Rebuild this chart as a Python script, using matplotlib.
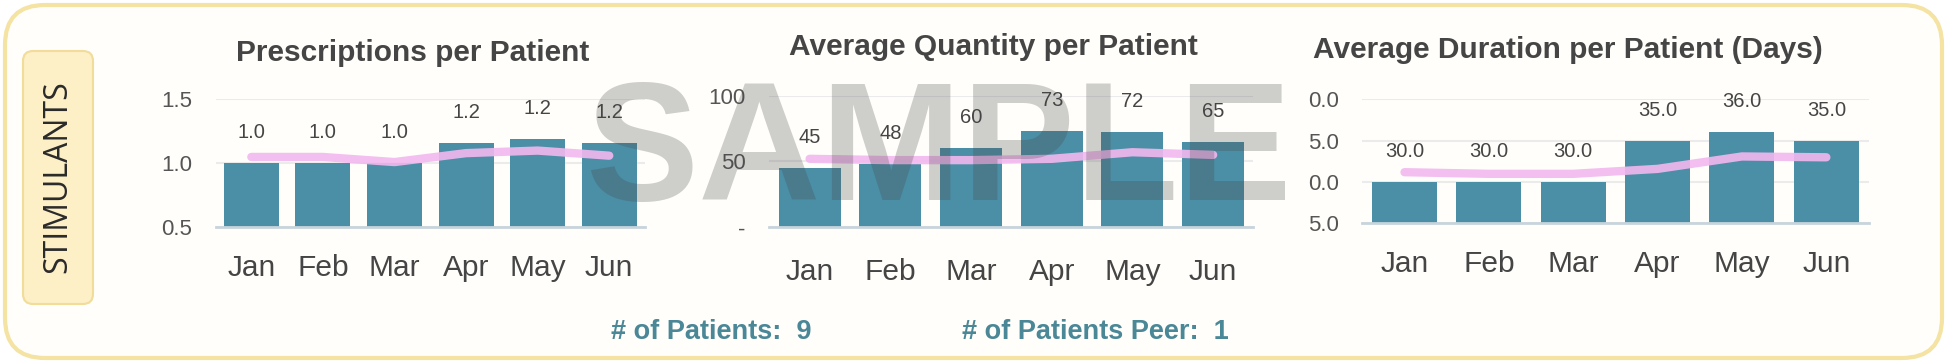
import matplotlib.pyplot as plt
from matplotlib.patches import FancyBboxPatch

W, H = 1947, 363

months = ['Jan', 'Feb', 'Mar', 'Apr', 'May', 'Jun']

# prescriptions per patient
rx_vals = [1.0, 1.0, 1.0, 1.16, 1.19, 1.16]
rx_peer = [1.05, 1.05, 1.01, 1.08, 1.10, 1.06]
rx_ticks = [0.5, 1.0, 1.5]
rx_ticklabels = ['0.5', '1.0', '1.5']

# average quantity per patient
qty_vals = [45, 48, 60, 73, 72, 65]
qty_peer = [52, 51, 51, 52, 57, 55]
qty_ticks = [0, 50, 100]
qty_ticklabels = ['-', '50', '100']

# average duration per patient (days)
dur_vals = [30.0, 30.0, 30.0, 35.0, 36.0, 35.0]
dur_peer = [31.2, 31.0, 31.0, 31.6, 33.1, 33.0]
dur_ticks = [25, 30, 35, 40]
dur_ticklabels = ['5.0', '0.0', '5.0', '0.0']

n_patients = 9
n_peer = 1

bar_color = '#4b8fa6'
peer_color = '#f2b8ef'
text_color = '#454545'

plt.rcParams['font.family'] = ['Liberation Sans', 'DejaVu Sans']

fig = plt.figure(figsize=(W / 100, H / 100), dpi=100)
fig.patch.set_facecolor('white')

# background layer in pixel units
bg = fig.add_axes([0, 0, 1, 1])
bg.set_xlim(0, W)
bg.set_ylim(H, 0)
bg.axis('off')
bg.set_zorder(-1)
bg.add_patch(FancyBboxPatch((5, 5), W - 10, H - 10, boxstyle='round,pad=0,rounding_size=40',
                            facecolor='#fffefa', edgecolor='#f4e3a2', linewidth=3))
bg.add_patch(FancyBboxPatch((23, 51), 70, 253, boxstyle='round,pad=0,rounding_size=10',
                            facecolor='#fdefc6', edgecolor='#f2dc9a', linewidth=1.5))
bg.text(58, 177, 'STIMULANTS', rotation=90, ha='center', va='center',
        fontsize=23, color='#2a2a2a', family=['Open Sans', 'DejaVu Sans'])

bg.text(413, 53, 'Prescriptions per Patient', ha='center', va='center',
        fontsize=21.5, fontweight='bold', color=text_color)
bg.text(993, 47, 'Average Quantity per Patient', ha='center', va='center',
        fontsize=21.5, fontweight='bold', color=text_color)
bg.text(1568, 50, 'Average Duration per Patient (Days)', ha='center', va='center',
        fontsize=21.5, fontweight='bold', color=text_color)

bg.text(611, 332, '# of Patients:  %d' % n_patients, ha='left', va='center',
        fontsize=19.5, fontweight='bold', color='#4a8797')
bg.text(962, 332, '# of Patients Peer:  %d' % n_peer, ha='left', va='center',
        fontsize=19.5, fontweight='bold', color='#4a8797')


def draw_panel(rect, vals, peer, ticks, ticklabels, fmt, xpad):
    ax = fig.add_axes(rect)
    ax.set_facecolor('none')
    x = range(len(months))
    bars = ax.bar(x, vals, width=0.77, color=bar_color, zorder=2)
    ax.plot(x, peer, color=peer_color, lw=6, alpha=0.9, solid_capstyle='round',
            solid_joinstyle='round', zorder=3)
    for b, v in zip(bars, vals):
        ax.annotate(fmt % v, (b.get_x() + b.get_width() / 2, b.get_height()),
                    xytext=(0, 22), textcoords='offset points', ha='center', va='center',
                    fontsize=14.5, color=text_color)
    ax.set_xlim(-0.5, len(months) - 0.5)
    ax.set_ylim(ticks[0], ticks[-1])
    ax.set_yticks(ticks)
    ax.set_yticklabels(ticklabels)
    ax.set_xticks(list(x))
    ax.set_xticklabels(months)
    ax.tick_params(axis='y', length=0, pad=17, labelsize=16, labelcolor='#555555')
    ax.tick_params(axis='x', length=0, pad=xpad, labelsize=21.5, labelcolor=text_color)
    ax.grid(axis='y', color='#ebebeb', lw=1.5)
    ax.set_axisbelow(True)
    for s in ['top', 'right', 'left']:
        ax.spines[s].set_visible(False)
    ax.spines['bottom'].set_color('#c8d4dc')
    ax.spines['bottom'].set_linewidth(2)
    return ax


draw_panel([0.1107, 0.374, 0.2206, 0.352], rx_vals, rx_peer, rx_ticks, rx_ticklabels, '%.1f', 19)
draw_panel([0.3951, 0.374, 0.2487, 0.3625], qty_vals, qty_peer, qty_ticks, qty_ticklabels, '%d', 22)
draw_panel([0.6997, 0.3843, 0.26, 0.342], dur_vals, dur_peer, dur_ticks, dur_ticklabels, '%.1f', 19)

# watermark
fig.text(0.482, 0.57, 'SAMPLE', ha='center', va='center', fontsize=122,
         fontweight='bold', color='#454545', alpha=0.26, zorder=10)

fig.savefig('out.png', dpi=100, facecolor=fig.get_facecolor())
